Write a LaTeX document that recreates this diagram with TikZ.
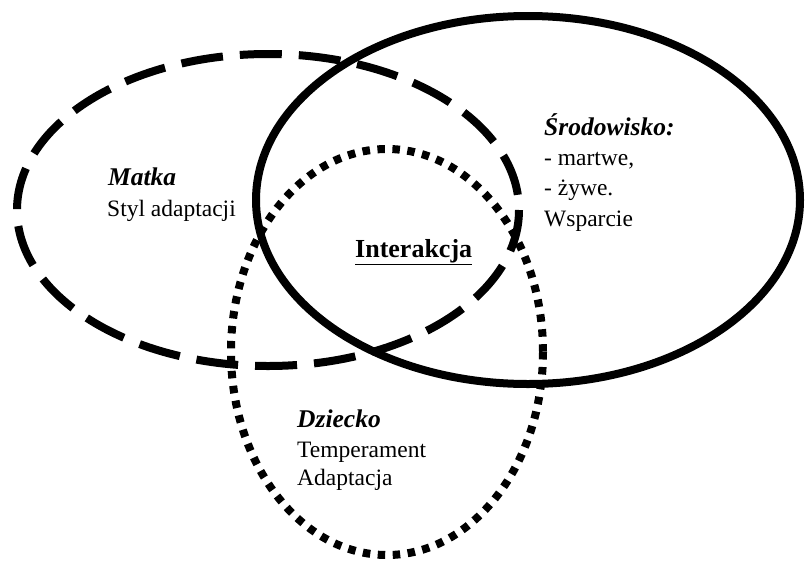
\documentclass[tikz,border=0pt]{standalone}
\usepackage{fontspec}
\setmainfont{Liberation Serif}
\begin{document}
\begin{tikzpicture}[x=1pt,y=-1pt,
  lbl/.style={anchor=base west,inner sep=0pt,font=\fontsize{23.5}{28}\selectfont},
  ttl/.style={lbl,font=\fontsize{25.5}{28}\selectfont\bfseries\itshape},
  dashring/.style={line width=8pt,dash pattern=on 42pt off 17pt},
  dotring/.style={line width=8pt,dash pattern=on 7.5pt off 7.5pt},
  solidring/.style={line width=8pt}]
\useasboundingbox (0,0) rectangle (806,560);
% rings
\draw[dashring] (268,210) ellipse [x radius=251, y radius=156];
\draw[solidring] (528,200) ellipse [x radius=272, y radius=184];
\draw[dotring] (387,352) ellipse [x radius=156, y radius=203];
% Matka
\node[ttl] (matka) at (108,185) {Matka};
\node[lbl] (styl) at (107,216) {Styl adaptacji};
% Srodowisko
\node[ttl] (srod) at (544,135) {Środowisko:};
\node[lbl] (martwe) at (544,165) {- martwe,};
\node[lbl] (zywe) at (544,195) {- żywe.};
\node[lbl] (wsparcie) at (544,226) {Wsparcie};
% Interakcja
\node[lbl,font=\fontsize{26}{28}\selectfont\bfseries] (inter) at (355,257) {\underline{Interakcja}};
% Dziecko
\node[ttl] (dziecko) at (297,427) {Dziecko};
\node[lbl] (temp) at (297,457) {Temperament};
\node[lbl] (adapt) at (297,485) {Adaptacja};
\end{tikzpicture}
\end{document}
